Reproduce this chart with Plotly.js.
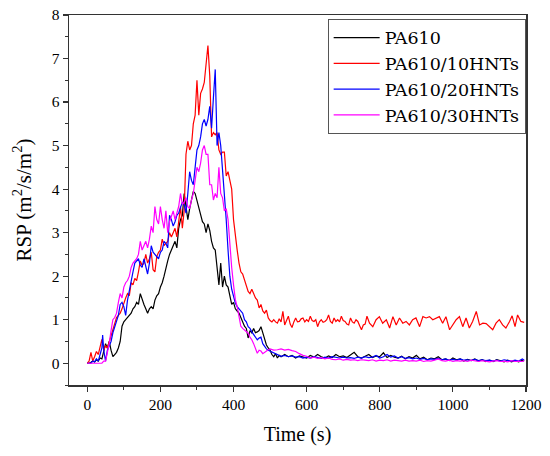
<!DOCTYPE html>
<html>
<head>
<meta charset="utf-8">
<script src="https://cdn.plot.ly/plotly-3.0.1.min.js"></script>
<style>html,body{margin:0;padding:0;background:#fff;}#chart{width:550px;height:456px;}</style>
</head>
<body>
<div id="chart"></div>
<script>
// ---- data ----
var seriesNames = ["PA610", "PA610/10HNTs", "PA610/20HNTs", "PA610/30HNTs"];
var seriesColors = ["#000000", "#ff0000", "#0000ff", "#ff00ff"];

var tBlack = [0,5,10,15,20,25,30,35,40,45,50,55,60,65,70,75,80,85,90,95,100,105,110,115,120,125,130,135,140,145,150,155,160,165,170,175,180,185,190,195,200,205,210,215,220,225,230,235,240,245,250,255,260,265,270,275,280,285,290,295,300,305,310,315,320,325,330,335,340,345,350,355,360,365,370,375,380,385,390,395,400,405,410,415,420,425,430,435,440,445,450,455,460,465,470,475,480,485,490,495,500,505,510,515,520,525,530,540,550,560,570,580,590,600,610,620,630,640,650,660,670,680,690,700,710,720,730,740,750,760,770,780,790,800,810,820,830,840,850,860,870,880,890,900,910,920,930,940,950,960,970,980,990,1000,1010,1020,1030,1040,1050,1060,1070,1080,1090,1100,1110,1120,1130,1140,1150,1160,1170,1180,1190,1195];
var yBlack = [0,0,0.02,0.05,0.03,0.08,0.05,0.12,0.1,0.3,0.45,0.35,0.5,0.3,0.15,0.2,0.25,0.35,0.5,0.85,0.95,1.0,1.05,1.1,1.15,1.25,1.3,1.4,1.35,1.6,1.45,1.35,1.25,1.15,1.25,1.3,1.25,1.45,1.55,1.6,1.75,1.85,2.0,2.2,2.35,2.5,2.6,2.7,2.8,2.65,3.1,3.3,3.4,3.9,3.6,3.3,3.55,3.75,3.95,3.9,3.75,3.55,3.4,3.25,3.2,3.0,3.2,3.05,2.8,2.65,2.6,2.1,1.8,2.3,1.75,2.0,1.8,1.75,1.5,1.35,1.4,1.25,1.2,1.15,1.05,0.95,0.85,0.8,0.58,0.75,0.7,0.8,0.7,0.72,0.75,0.84,0.7,0.55,0.42,0.35,0.3,0.2,0.15,0.22,0.12,0.18,0.15,0.2,0.15,0.18,0.12,0.17,0.15,0.12,0.18,0.14,0.2,0.15,0.12,0.17,0.13,0.2,0.15,0.17,0.13,0.18,0.25,0.15,0.12,0.16,0.2,0.13,0.17,0.15,0.24,0.13,0.18,0.14,0.12,0.16,0.1,0.15,0.12,0.18,0.1,0.14,0.08,0.12,0.1,0.15,0.08,0.1,0.06,0.12,0.08,0.1,0.05,0.09,0.06,0.1,0.05,0.08,0.04,0.07,0.04,0.08,0.05,0.03,0.07,0.03,0.06,0.03,0.07,0.05];

var tRed = [0,5,10,15,20,25,30,35,40,45,50,55,60,65,70,75,80,85,90,95,100,105,110,115,120,125,130,135,140,145,150,155,160,165,170,175,180,185,190,195,200,205,210,215,220,225,230,235,240,245,250,255,260,265,270,275,280,285,290,295,300,305,310,315,320,325,330,335,340,345,350,355,360,365,370,375,380,385,390,395,400,405,410,415,420,425,430,435,440,445,450,455,460,465,470,475,480,485,490,495,500,505,510,515,520,525,530,535,540,545,550,555,560,565,570,575,580,585,590,595,600,605,610,615,620,625,630,635,640,645,650,655,660,665,670,675,680,685,690,695,700,705,710,715,720,725,730,735,740,745,750,755,760,765,772,781,790,799,808,818,827,836,845,854,863,872,881,890,899,909,918,927,936,945,954,963,972,981,991,1000,1009,1018,1027,1036,1045,1054,1064,1073,1082,1091,1100,1109,1118,1127,1136,1145,1155,1162,1170,1177,1186,1195];
var yRed = [0,0.05,0.25,0.05,0.15,0.27,0.2,0.35,0.55,0.3,0.4,0.35,0.5,0.6,0.75,0.9,1.05,1.1,1.15,1.25,1.4,1.5,1.6,1.55,1.85,1.8,1.95,1.9,2.1,2.35,2.25,2.3,2.5,2.3,2.4,2.55,2.15,2.1,2.45,2.55,2.6,2.85,2.7,2.75,2.8,3.0,2.9,3.0,3.1,2.9,3.3,3.6,3.1,3.5,4.8,5.1,4.9,5.0,5.5,5.7,6.5,5.7,6.2,6.3,6.45,6.9,7.3,6.6,5.2,5.3,5.25,5.3,4.9,4.8,4.85,4.85,4.3,4.4,4.2,4.0,3.3,2.9,2.6,2.3,2.1,2.05,1.9,1.8,1.65,1.6,1.7,1.6,1.5,1.45,1.27,1.35,1.2,1.15,1.22,1.04,0.98,0.95,1.0,0.95,0.92,1.02,0.95,1.19,0.88,0.98,1.08,0.9,0.82,0.95,1.04,0.95,0.96,1.02,1.04,0.95,1.0,0.96,1.08,0.98,0.96,1.0,0.84,0.95,1.0,0.94,0.96,1.0,1.11,0.96,0.92,1.04,0.96,1.0,0.95,1.08,0.98,0.96,0.9,0.88,1.04,0.95,0.92,1.0,0.96,0.86,0.77,0.88,0.9,1.08,0.92,0.84,1.0,1.07,0.92,1.0,0.81,1.07,0.88,1.04,0.92,0.96,0.88,1.0,1.04,0.84,1.07,1.04,1.07,1.0,1.04,1.07,0.92,1.07,0.77,0.88,1.0,1.07,0.84,1.04,0.81,0.96,1.19,0.88,0.92,0.91,0.84,0.77,0.92,1.0,0.88,0.81,0.96,1.09,0.84,1.11,0.96,0.94];

var tBlue = [0,5,10,15,20,25,30,35,40,42,45,50,55,60,65,70,75,80,85,90,95,100,105,110,115,120,125,130,135,140,145,150,155,160,165,170,175,180,185,190,195,200,205,210,215,220,225,230,235,240,245,250,255,260,265,270,275,280,285,290,295,300,305,310,315,320,325,330,335,340,345,350,355,360,365,370,375,380,385,390,395,400,405,410,415,420,425,430,435,440,445,450,455,460,465,470,475,480,485,490,495,500,505,510,520,530,540,550,560,570,580,590,600,610,620,630,640,650,660,670,680,690,700,710,720,730,740,750,760,770,780,790,800,810,820,830,840,850,860,870,880,890,900,910,920,930,940,950,960,970,980,990,1000,1010,1020,1030,1040,1050,1060,1070,1080,1090,1100,1110,1120,1130,1140,1150,1160,1170,1180,1190,1195];
var yBlue = [0,0,0,0.05,0.03,0.1,0.05,0.2,0.35,0.65,0.3,0.05,0.3,0.4,0.5,0.7,0.85,1.0,1.1,1.35,1.4,1.3,1.1,1.45,1.7,1.9,2.1,2.3,2.35,2.4,2.25,2.2,2.4,2.2,2.05,2.3,2.7,2.55,2.5,2.45,2.4,2.55,2.6,2.8,2.75,2.65,3.4,3.3,3.15,3.25,3.4,3.45,3.6,3.7,3.65,3.45,3.9,4.4,4.2,4.1,4.5,4.9,5.0,5.2,5.5,5.6,5.45,5.6,5.9,5.4,6.1,6.75,5.0,5.3,5.0,4.5,4.0,3.3,2.6,2.0,1.7,1.55,1.38,1.3,1.25,1.19,1.15,1.0,0.95,0.84,0.8,0.72,0.65,0.6,0.54,0.58,0.6,0.45,0.38,0.33,0.3,0.28,0.25,0.23,0.2,0.16,0.18,0.15,0.17,0.14,0.15,0.12,0.14,0.12,0.15,0.13,0.11,0.14,0.12,0.15,0.13,0.12,0.14,0.12,0.13,0.11,0.14,0.12,0.15,0.13,0.14,0.18,0.12,0.15,0.2,0.14,0.17,0.12,0.15,0.11,0.13,0.1,0.12,0.09,0.11,0.08,0.1,0.09,0.11,0.08,0.1,0.07,0.09,0.07,0.1,0.07,0.08,0.06,0.09,0.06,0.08,0.06,0.07,0.05,0.07,0.05,0.08,0.06,0.05,0.07,0.05,0.1,0.07];

var tMag = [0,5,10,15,20,25,30,35,40,45,50,55,60,65,70,75,80,85,90,95,100,105,110,115,120,125,130,135,140,145,150,155,160,165,170,175,180,185,190,195,200,205,210,215,220,225,230,235,240,245,250,255,260,265,270,275,280,285,290,295,300,305,310,315,320,325,330,335,340,345,350,355,360,365,370,375,380,385,390,395,400,405,410,415,420,425,430,435,440,445,450,455,460,465,470,475,480,485,490,495,500,510,520,530,540,550,560,570,580,590,600,610,620,630,640,650,660,670,680,690,700,710,720,730,740,750,760,770,780,790,800,810,820,830,840,850,860,870,880,890,900,910,920,930,940,950,960,970,980,990,1000,1010,1020,1030,1040,1050,1060,1070,1080,1090,1100,1110,1120,1130,1140,1150,1160,1170,1180,1190,1195];
var yMag = [0,0,0,0,0,0,0,0,0,0.05,0.05,0.25,0.45,0.75,1.0,1.05,1.15,1.4,1.6,1.5,1.75,1.85,1.9,2.0,2.2,2.3,2.35,2.4,2.5,2.8,2.6,2.7,2.8,2.65,2.85,3.15,3.0,3.6,3.3,3.2,3.6,3.3,3.1,3.5,3.0,3.25,3.4,3.5,3.3,3.45,3.6,3.9,3.65,3.7,3.8,3.6,3.55,3.75,3.9,4.2,4.5,4.4,4.6,4.9,5.0,4.8,4.8,4.1,4.1,3.75,3.9,3.8,4.5,3.9,3.8,3.5,3.55,3.3,2.7,2.2,1.8,1.46,1.3,1.05,0.85,0.8,0.76,0.72,0.69,0.6,0.54,0.45,0.35,0.23,0.3,0.28,0.22,0.25,0.3,0.31,0.33,0.3,0.31,0.33,0.3,0.32,0.29,0.27,0.22,0.18,0.16,0.12,0.14,0.11,0.13,0.1,0.12,0.09,0.08,0.1,0.07,0.09,0.07,0.08,0.06,0.08,0.07,0.06,0.08,0.05,0.07,0.06,0.08,0.05,0.07,0.06,0.05,0.07,0.05,0.06,0.05,0.07,0.04,0.06,0.05,0.07,0.1,0.06,0.05,0.07,0.04,0.06,0.05,0.06,0.04,0.07,0.05,0.04,0.06,0.05,0.03,0.05,0.06,0.04,0.05,0.03,0.06,0.04,0.05,0.04,0.06,0.05];

var xTickVals = [0,200,400,600,800,1000,1200];
var yTickVals = [0,1,2,3,4,5,6,7,8];

var xs = [tBlack, tRed, tBlue, tMag];
var ys = [yBlack, yRed, yBlue, yMag];

var traces = seriesNames.map(function(n, i){
  return {x: xs[i], y: ys[i], name: n, type: 'scatter', mode: 'lines',
          line: {color: seriesColors[i], width: 1.2}};
});

var serif = 'Liberation Serif, Times New Roman, serif';
var legSerif = 'DejaVu Serif, serif';
var layout = {
  width: 550, height: 456,
  margin: {l: 69, r: 24, t: 15, b: 71},
  paper_bgcolor: '#fff', plot_bgcolor: '#fff',
  font: {family: serif, color: '#000'},
  showlegend: true,
  legend: {x: 0.566, y: 0.99, xanchor: 'left', yanchor: 'top',
           bordercolor: '#555', borderwidth: 1, bgcolor: '#fff',
           font: {family: legSerif, size: 17.5, color: '#000'},
           tracegroupgap: 0, itemwidth: 46},
  xaxis: {range: [-50, 1200], tickvals: xTickVals, ticktext: xTickVals.map(String),
          ticks: 'outside', ticklen: 5, tickwidth: 1.2, tickcolor: '#333',
          minor: {dtick: 100, tick0: 0, ticks: 'outside', ticklen: 3, tickcolor: '#333', tickwidth: 1},
          showline: true, linecolor: '#333', linewidth: 1.5, mirror: true,
          showgrid: false, zeroline: false,
          tickfont: {family: serif, size: 15.5, color: '#000'},
          title: {text: 'Time (s)', font: {family: serif, size: 20, color: '#000'}, standoff: 15}},
  yaxis: {range: [-0.5, 8], tickvals: yTickVals, ticktext: yTickVals.map(String),
          ticks: 'outside', ticklen: 5, tickwidth: 1.2, tickcolor: '#333',
          minor: {dtick: 0.5, tick0: 0, ticks: 'outside', ticklen: 3, tickcolor: '#333', tickwidth: 1},
          showline: true, linecolor: '#333', linewidth: 1.5, mirror: true,
          showgrid: false, zeroline: false,
          tickfont: {family: serif, size: 15.5, color: '#000'},
          title: {text: 'RSP (m<sup>2</sup>/s/m<sup>2</sup>)', font: {family: serif, size: 21, color: '#000'}, standoff: 14}}
};

Plotly.newPlot('chart', traces, layout, {displayModeBar: false, staticPlot: true});
</script>
</body>
</html>
